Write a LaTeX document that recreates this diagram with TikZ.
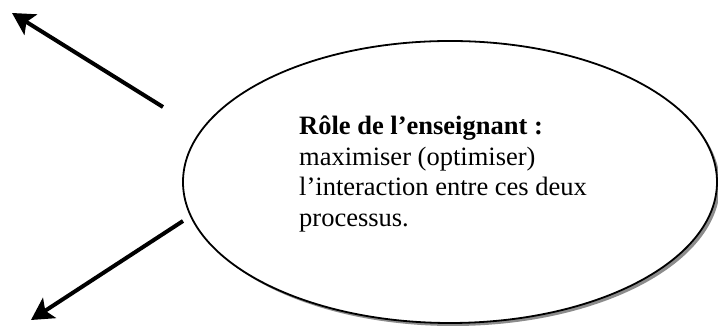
\documentclass[tikz,border=0pt]{standalone}
\usepackage{fontspec}
\setmainfont{Liberation Serif}
\usetikzlibrary{arrows.meta,shadows,shapes.geometric}
\begin{document}
\begin{tikzpicture}[x=1pt,y=1pt,
  arr/.style={line width=4pt,-{Stealth[length=22pt,width=24pt,inset=5pt]}},
  bubble/.style={ellipse,draw,line width=1.8pt,fill=white,minimum width=534pt,minimum height=282pt,inner sep=0pt,
    drop shadow={shadow xshift=3pt,shadow yshift=-3pt,fill=black!45,opacity=1}},
  txt/.style={align=left,inner sep=0pt,font=\fontsize{26.5}{30.5}\selectfont}]
\useasboundingbox (0,0) rectangle (718,328);
\node[bubble] (e) at (450,146) {};
\node[txt,anchor=north west] (t) at (299,212) {\textbf{Rôle de l’enseignant :}\\maximiser (optimiser)\\l’interaction entre ces deux\\processus.};
\coordinate (s1) at (163,221);
\coordinate (p1) at (12,315);
\coordinate (s2) at (183,107);
\coordinate (p2) at (31,8);
\draw[arr] (s1) -- (p1);
\draw[arr] (s2) -- (p2);
\end{tikzpicture}
\end{document}
